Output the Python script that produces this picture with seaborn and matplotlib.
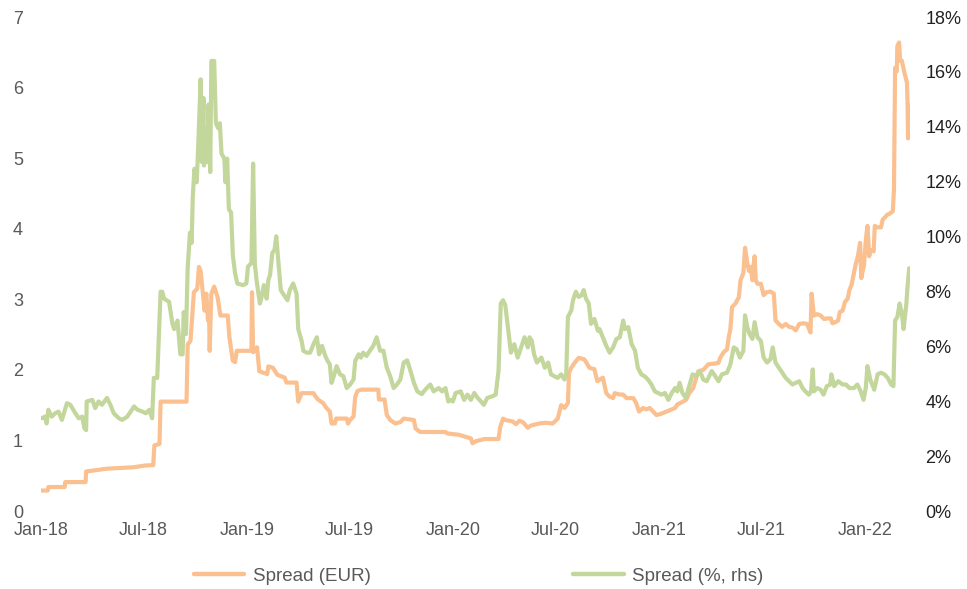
import matplotlib
matplotlib.use("Agg")
import matplotlib.pyplot as plt
import matplotlib.dates as mdates
from matplotlib.lines import Line2D
from matplotlib.ticker import FuncFormatter
import pandas as pd
import seaborn as sns

# ---------------- data ----------------
eur_dates = [
    "2018-01-01", "2018-01-13", "2018-01-14", "2018-02-12", "2018-02-13", "2018-03-21", "2018-03-22",
    "2018-04-28", "2018-06-14", "2018-07-05", "2018-07-19", "2018-07-21", "2018-07-30", "2018-08-01",
    "2018-09-16", "2018-09-18", "2018-09-23", "2018-09-29", "2018-10-05", "2018-10-08", "2018-10-11",
    "2018-10-15", "2018-10-18", "2018-10-21", "2018-10-24", "2018-10-26", "2018-10-27", "2018-10-30",
    "2018-11-04", "2018-11-10", "2018-11-15", "2018-11-28", "2018-12-01", "2018-12-07", "2018-12-11",
    "2018-12-14", "2019-01-09", "2019-01-10", "2019-01-12", "2019-01-19", "2019-01-23", "2019-02-06",
    "2019-02-08", "2019-02-16", "2019-02-24", "2019-03-09", "2019-03-12", "2019-03-30", "2019-04-02",
    "2019-04-08", "2019-04-29", "2019-05-03", "2019-05-07", "2019-05-16", "2019-05-22", "2019-05-28",
    "2019-05-31", "2019-06-06", "2019-06-08", "2019-06-27", "2019-06-29", "2019-07-03", "2019-07-09",
    "2019-07-12", "2019-07-16", "2019-07-23", "2019-08-22", "2019-08-23", "2019-09-02", "2019-09-06",
    "2019-09-12", "2019-09-21", "2019-09-30", "2019-10-06", "2019-10-24", "2019-10-27", "2019-11-04",
    "2019-12-19", "2019-12-22", "2020-01-12", "2020-01-24", "2020-02-02", "2020-02-05", "2020-02-11",
    "2020-02-26", "2020-03-22", "2020-03-25", "2020-03-30", "2020-04-03", "2020-04-16", "2020-04-22",
    "2020-04-28", "2020-05-04", "2020-05-13", "2020-05-18", "2020-06-02", "2020-06-14", "2020-06-26",
    "2020-07-05", "2020-07-11", "2020-07-17", "2020-07-23", "2020-07-25", "2020-07-29", "2020-08-04",
    "2020-08-11", "2020-08-21", "2020-08-25", "2020-08-30", "2020-09-08", "2020-09-13", "2020-09-17",
    "2020-09-23", "2020-09-29", "2020-10-05", "2020-10-11", "2020-10-14", "2020-10-23", "2020-10-29",
    "2020-11-04", "2020-11-16", "2020-11-21", "2020-11-26", "2020-12-03", "2020-12-09", "2020-12-15",
    "2020-12-21", "2020-12-27", "2021-01-05", "2021-01-14", "2021-01-20", "2021-01-29", "2021-02-02",
    "2021-02-12", "2021-02-18", "2021-02-23", "2021-03-02", "2021-03-11", "2021-03-20", "2021-03-29",
    "2021-04-10", "2021-04-16", "2021-04-19", "2021-04-25", "2021-05-01", "2021-05-04", "2021-05-07",
    "2021-05-10", "2021-05-16", "2021-05-22", "2021-05-25", "2021-05-30", "2021-06-02", "2021-06-06",
    "2021-06-09", "2021-06-12", "2021-06-15", "2021-06-16", "2021-06-19", "2021-06-21", "2021-06-24",
    "2021-06-30", "2021-07-05", "2021-07-10", "2021-07-17", "2021-07-23", "2021-07-26", "2021-08-01",
    "2021-08-07", "2021-08-13", "2021-08-19", "2021-08-25", "2021-08-31", "2021-09-06", "2021-09-14",
    "2021-09-20", "2021-09-26", "2021-09-28", "2021-10-02", "2021-10-08", "2021-10-14", "2021-10-20",
    "2021-10-26", "2021-11-01", "2021-11-04", "2021-11-10", "2021-11-14", "2021-11-17", "2021-11-22",
    "2021-11-26", "2021-12-01", "2021-12-04", "2021-12-08", "2021-12-11", "2021-12-15", "2021-12-19",
    "2021-12-23", "2021-12-25", "2021-12-30", "2022-01-02", "2022-01-05", "2022-01-08", "2022-01-11",
    "2022-01-16", "2022-01-18", "2022-01-23", "2022-01-29", "2022-02-01", "2022-02-05", "2022-02-09",
    "2022-02-13", "2022-02-19", "2022-02-21", "2022-02-23", "2022-02-26", "2022-02-27", "2022-03-02",
    "2022-03-04", "2022-03-07", "2022-03-11", "2022-03-16", "2022-03-17", "2022-03-18", "2022-03-19",
]
eur_values = [
    0.29, 0.29, 0.34, 0.34, 0.41, 0.41, 0.56,
    0.60, 0.62, 0.645, 0.65, 0.93, 0.95, 1.55,
    1.55, 2.36, 2.41, 3.10, 3.15, 3.46, 3.40,
    3.08, 2.84, 3.08, 2.70, 2.75, 2.27, 3.08,
    3.18, 3.03, 2.77, 2.77, 2.46, 2.13, 2.11,
    2.27, 2.27, 3.10, 2.25, 2.32, 1.98, 1.94,
    2.05, 2.03, 1.93, 1.89, 1.82, 1.82, 1.55,
    1.67, 1.67, 1.62, 1.58, 1.53, 1.46, 1.41,
    1.24, 1.24, 1.31, 1.31, 1.24, 1.29, 1.34,
    1.62, 1.70, 1.72, 1.72, 1.58, 1.58, 1.36,
    1.29, 1.24, 1.26, 1.31, 1.29, 1.17, 1.12,
    1.12, 1.10, 1.08, 1.05, 1.03, 0.96, 0.99,
    1.02, 1.02, 1.19, 1.31, 1.29, 1.27, 1.23,
    1.28, 1.26, 1.18, 1.21, 1.24, 1.25, 1.24,
    1.31, 1.50, 1.46, 1.53, 1.96, 2.03, 2.10,
    2.17, 2.15, 2.10, 2.03, 2.01, 1.84, 1.86,
    1.89, 1.67, 1.62, 1.60, 1.67, 1.65, 1.65,
    1.60, 1.60, 1.53, 1.41, 1.46, 1.44, 1.46,
    1.41, 1.36, 1.38, 1.41, 1.43, 1.46, 1.51,
    1.55, 1.58, 1.67, 1.74, 1.98, 2.00, 2.08,
    2.09, 2.10, 2.17, 2.25, 2.29, 2.46, 2.58,
    2.89, 2.94, 3.03, 3.27, 3.37, 3.73, 3.51,
    3.40, 3.46, 3.27, 3.40, 3.61, 3.27, 3.22,
    3.22, 3.06, 3.10, 3.11, 3.08, 2.70, 2.65,
    2.61, 2.65, 2.61, 2.60, 2.56, 2.65, 2.66,
    2.65, 2.53, 3.08, 2.77, 2.79, 2.77, 2.72,
    2.73, 2.73, 2.66, 2.68, 2.70, 2.82, 2.84,
    2.96, 3.01, 3.13, 3.21, 3.33, 3.49, 3.61,
    3.80, 3.30, 3.49, 3.83, 4.04, 3.61, 3.70,
    3.68, 4.04, 4.02, 4.02, 4.13, 4.16, 4.20,
    4.21, 4.25, 4.56, 6.28, 6.23, 6.59, 6.64,
    6.38, 6.38, 6.23, 6.07, 5.80, 5.28, 5.75,
]

pct_dates = [
    "2018-01-01", "2018-01-03", "2018-01-08", "2018-01-11", "2018-01-14", "2018-01-20", "2018-01-26",
    "2018-02-01", "2018-02-07", "2018-02-16", "2018-02-22", "2018-03-03", "2018-03-09", "2018-03-15",
    "2018-03-19", "2018-03-22", "2018-03-23", "2018-04-02", "2018-04-07", "2018-04-13", "2018-04-19",
    "2018-04-28", "2018-05-04", "2018-05-10", "2018-05-19", "2018-05-25", "2018-06-03", "2018-06-15",
    "2018-06-21", "2018-06-30", "2018-07-06", "2018-07-12", "2018-07-17", "2018-07-20", "2018-07-26",
    "2018-08-01", "2018-08-04", "2018-08-07", "2018-08-16", "2018-08-22", "2018-08-25", "2018-08-31",
    "2018-09-05", "2018-09-09", "2018-09-11", "2018-09-15", "2018-09-18", "2018-09-22", "2018-09-25",
    "2018-09-27", "2018-09-30", "2018-10-04", "2018-10-07", "2018-10-11", "2018-10-13", "2018-10-16",
    "2018-10-17", "2018-10-20", "2018-10-23", "2018-10-25", "2018-10-28", "2018-10-30", "2018-11-04",
    "2018-11-07", "2018-11-11", "2018-11-14", "2018-11-17", "2018-11-22", "2018-11-24", "2018-11-27",
    "2018-11-30", "2018-12-04", "2018-12-07", "2018-12-11", "2018-12-15", "2018-12-25", "2018-12-31",
    "2019-01-03", "2019-01-09", "2019-01-12", "2019-01-15", "2019-01-18", "2019-01-24", "2019-01-27",
    "2019-01-31", "2019-02-05", "2019-02-08", "2019-02-11", "2019-02-15", "2019-02-19", "2019-02-22",
    "2019-02-25", "2019-03-02", "2019-03-08", "2019-03-14", "2019-03-18", "2019-03-24", "2019-03-30",
    "2019-04-02", "2019-04-08", "2019-04-11", "2019-04-17", "2019-04-23", "2019-04-29", "2019-05-05",
    "2019-05-09", "2019-05-14", "2019-05-20", "2019-05-24", "2019-05-28", "2019-05-31", "2019-06-05",
    "2019-06-09", "2019-06-15", "2019-06-21", "2019-06-27", "2019-07-03", "2019-07-09", "2019-07-12",
    "2019-07-18", "2019-07-22", "2019-07-26", "2019-08-01", "2019-08-07", "2019-08-13", "2019-08-19",
    "2019-08-25", "2019-08-31", "2019-09-06", "2019-09-12", "2019-09-18", "2019-09-24", "2019-09-30",
    "2019-10-06", "2019-10-12", "2019-10-18", "2019-10-24", "2019-10-30", "2019-11-07", "2019-11-13",
    "2019-11-22", "2019-11-28", "2019-12-07", "2019-12-13", "2019-12-19", "2019-12-24", "2019-12-28",
    "2020-01-01", "2020-01-06", "2020-01-15", "2020-01-21", "2020-01-27", "2020-02-02", "2020-02-08",
    "2020-02-14", "2020-02-20", "2020-02-25", "2020-03-02", "2020-03-11", "2020-03-17", "2020-03-22",
    "2020-03-26", "2020-03-30", "2020-04-03", "2020-04-07", "2020-04-13", "2020-04-19", "2020-04-25",
    "2020-05-01", "2020-05-07", "2020-05-13", "2020-05-16", "2020-05-20", "2020-05-24", "2020-05-29",
    "2020-06-06", "2020-06-12", "2020-06-18", "2020-06-23", "2020-06-29", "2020-07-05", "2020-07-11",
    "2020-07-17", "2020-07-20", "2020-07-23", "2020-07-29", "2020-08-01", "2020-08-06", "2020-08-11",
    "2020-08-16", "2020-08-20", "2020-08-24", "2020-08-29", "2020-09-02", "2020-09-08", "2020-09-14",
    "2020-09-17", "2020-09-23", "2020-09-29", "2020-10-05", "2020-10-11", "2020-10-17", "2020-10-23",
    "2020-10-29", "2020-11-01", "2020-11-07", "2020-11-13", "2020-11-19", "2020-11-24", "2020-11-30",
    "2020-12-06", "2020-12-12", "2020-12-18", "2020-12-24", "2020-12-30", "2021-01-05", "2021-01-11",
    "2021-01-17", "2021-01-23", "2021-01-29", "2021-02-02", "2021-02-06", "2021-02-11", "2021-02-17",
    "2021-02-22", "2021-03-01", "2021-03-08", "2021-03-14", "2021-03-20", "2021-03-26", "2021-04-04",
    "2021-04-10", "2021-04-16", "2021-04-22", "2021-05-01", "2021-05-07", "2021-05-13", "2021-05-18",
    "2021-05-24", "2021-05-30", "2021-06-02", "2021-06-06", "2021-06-10", "2021-06-15", "2021-06-19",
    "2021-06-24", "2021-06-30", "2021-07-05", "2021-07-11", "2021-07-17", "2021-07-21", "2021-07-26",
    "2021-08-01", "2021-08-07", "2021-08-13", "2021-08-19", "2021-08-25", "2021-08-31", "2021-09-06",
    "2021-09-12", "2021-09-17", "2021-09-23", "2021-09-27", "2021-09-30", "2021-10-02", "2021-10-08",
    "2021-10-14", "2021-10-19", "2021-10-25", "2021-10-31", "2021-11-02", "2021-11-07", "2021-11-14",
    "2021-11-22", "2021-11-28", "2021-12-04", "2021-12-12", "2021-12-18", "2021-12-24", "2021-12-29",
    "2022-01-02", "2022-01-05", "2022-01-10", "2022-01-17", "2022-01-23", "2022-01-29", "2022-02-04",
    "2022-02-10", "2022-02-16", "2022-02-20", "2022-02-23", "2022-02-27", "2022-03-03", "2022-03-07",
    "2022-03-10", "2022-03-13", "2022-03-15", "2022-03-17", "2022-03-20",
]
pct_values = [
    3.40, 3.38, 3.44, 3.19, 3.69, 3.44, 3.56,
    3.62, 3.32, 3.93, 3.87, 3.56, 3.38, 3.44,
    3.01, 2.95, 3.99, 4.05, 3.75, 3.99, 3.87,
    4.12, 3.87, 3.56, 3.38, 3.32, 3.44, 3.81,
    3.69, 3.62, 3.56, 3.69, 3.38, 4.85, 4.85,
    7.99, 7.99, 7.74, 7.62, 6.82, 6.63, 6.94,
    5.71, 5.71, 7.25, 6.45, 8.85, 10.14, 9.77,
    11.43, 12.47, 11.98, 13.45, 15.73, 12.72, 15.05,
    12.59, 13.95, 12.72, 14.81, 12.35, 16.40, 16.40,
    14.13, 13.95, 14.13, 13.02, 12.84, 11.98, 12.84,
    11.00, 10.87, 9.34, 8.66, 8.29, 8.23, 8.29,
    8.91, 9.03, 12.66, 9.03, 8.42, 7.56, 7.80,
    8.23, 7.74, 8.42, 8.60, 9.40, 9.52, 10.01,
    9.28, 8.05, 7.86, 7.68, 8.05, 8.29, 7.92,
    6.63, 6.20, 5.84, 5.77, 5.77, 6.08, 6.33,
    5.71, 6.02, 5.65, 5.47, 5.34, 4.67, 4.98,
    5.28, 4.98, 4.91, 4.48, 4.61, 4.79, 5.47,
    5.71, 5.59, 5.77, 5.65, 5.84, 6.02, 6.33,
    5.84, 5.84, 5.22, 4.91, 4.48, 4.61, 4.79,
    5.41, 5.49, 5.10, 4.67, 4.36, 4.26, 4.42,
    4.61, 4.36, 4.48, 4.36, 4.48, 3.99, 4.05,
    3.99, 4.30, 4.36, 4.05, 4.24, 4.05, 4.30,
    4.12, 3.99, 3.87, 4.12, 4.18, 4.24, 5.10,
    7.56, 7.68, 7.50, 6.82, 5.77, 6.08, 5.59,
    5.96, 6.33, 5.96, 6.33, 6.20, 5.71, 5.41,
    5.59, 5.22, 5.41, 4.98, 4.91, 4.85, 4.98,
    4.79, 4.98, 7.07, 7.31, 7.68, 7.99, 7.80,
    7.86, 8.05, 7.74, 7.56, 6.82, 7.00, 6.57,
    6.63, 6.33, 6.02, 5.77, 5.96, 6.27, 6.33,
    6.94, 6.63, 6.70, 6.08, 5.84, 5.22, 4.98,
    4.91, 4.79, 4.61, 4.36, 4.30, 4.24, 4.30,
    4.05, 4.30, 4.48, 4.36, 4.67, 4.30, 4.12,
    4.48, 4.98, 4.92, 5.10, 4.79, 4.73, 5.10,
    4.92, 4.73, 4.98, 5.04, 5.34, 5.96, 5.90,
    5.59, 5.84, 7.13, 6.70, 6.45, 6.27, 6.88,
    6.33, 6.20, 5.59, 5.41, 5.53, 5.96, 5.41,
    5.22, 5.04, 4.85, 4.73, 4.61, 4.67, 4.73,
    4.48, 4.36, 4.24, 4.36, 5.16, 4.36, 4.48,
    4.42, 4.24, 4.55, 4.61, 4.98, 4.55, 4.73,
    4.61, 4.61, 4.48, 4.48, 4.61, 4.36, 4.05,
    4.48, 5.28, 4.79, 4.42, 4.98, 5.04, 4.98,
    4.85, 4.61, 4.55, 6.94, 7.07, 7.56, 7.19,
    6.63, 7.19, 7.56, 8.17, 8.85,
]

series_labels = ["Spread (EUR)", "Spread (%, rhs)"]
left_ticks = [0, 1, 2, 3, 4, 5, 6, 7]
right_ticks = [0, 2, 4, 6, 8, 10, 12, 14, 16, 18]

# ---------------- styling ----------------
ORANGE = "#FAC090"
GREEN = "#C3D69B"
GREY = "#595959"

sns.set_theme(style="white")
plt.rcParams["font.family"] = ["Liberation Sans", "DejaVu Sans"]

eur_df = pd.DataFrame({"date": pd.to_datetime(eur_dates), "value": eur_values})
pct_df = pd.DataFrame({"date": pd.to_datetime(pct_dates), "value": pct_values})

fig = plt.figure(figsize=(9.67, 5.89), dpi=100)
ax = fig.add_axes([0.0424, 0.1324, 0.899, 0.8387])
ax2 = ax.twinx()

sns.lineplot(data=eur_df, x="date", y="value", ax=ax, color=ORANGE, linewidth=3.0,
             estimator=None, legend=False)
sns.lineplot(data=pct_df, x="date", y="value", ax=ax2, color=GREEN, linewidth=3.0,
             estimator=None, legend=False)

ax.set_xlim(pd.Timestamp("2018-01-01"), pd.Timestamp("2022-03-22"))
ax.set_ylim(0, 7)
ax2.set_ylim(0, 18)
ax.set_yticks(left_ticks)
ax2.set_yticks(right_ticks)
ax2.yaxis.set_major_formatter(FuncFormatter(lambda v, p: f"{v:.0f}%"))

ax.xaxis.set_major_locator(mdates.MonthLocator(bymonth=[1, 7]))
ax.xaxis.set_major_formatter(mdates.DateFormatter("%b-%y"))

for a in (ax, ax2):
    a.set_xlabel("")
    a.set_ylabel("")
    a.grid(False)
    for s in a.spines.values():
        s.set_visible(False)

ax.tick_params(axis="x", length=0, pad=8, labelsize=13, labelcolor=GREY)
ax.tick_params(axis="y", length=0, pad=13, labelsize=13, labelcolor=GREY)
ax2.tick_params(axis="y", length=0, pad=11, labelsize=13, labelcolor="#222222")

handles = [Line2D([], [], color=ORANGE, linewidth=3.2),
           Line2D([], [], color=GREEN, linewidth=3.2)]
fig.legend(handles, series_labels, loc="center", bbox_to_anchor=(0.495, 0.022),
           ncol=2, frameon=False, fontsize=13.5, labelcolor=GREY,
           handlelength=2.7, handletextpad=0.45, columnspacing=10.8)

fig.savefig("out.png", dpi=100)
